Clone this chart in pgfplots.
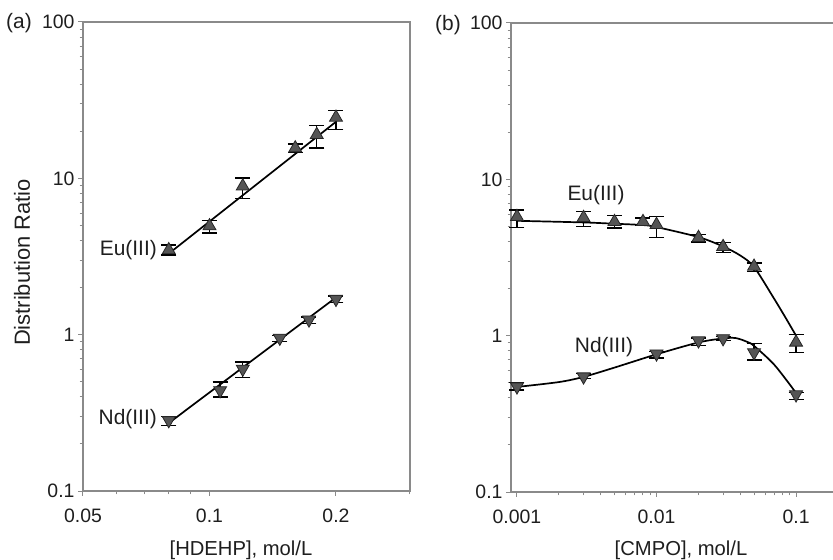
\documentclass[border=0pt]{standalone}
\usepackage{fontspec}
\setmainfont{Liberation Sans}
\usepackage{pgfplots}
\pgfplotsset{compat=1.18}

\definecolor{axisgray}{HTML}{8A8A8A}
\definecolor{markgray}{HTML}{555555}
\definecolor{txt}{HTML}{1E1E1E}

\pgfplotsset{
  every axis/.append style={
    scale only axis, height=469bp,
    ymin=0.1, ymax=100,
    ytick={0.1,1,10,100}, yticklabels={0.1,1,10,100},
    minor ytick={0.2,0.3,0.4,0.5,0.6,0.7,0.8,0.9,2,3,4,5,6,7,8,9,20,30,40,50,60,70,80,90},
    tick align=outside,
    major tick length=5bp, minor tick length=3.5bp,
    axis line style={axisgray, line width=1.2bp},
    tick style={axisgray, line width=1bp},
    tick label style={font=\fontsize{19.5}{22}\selectfont, text=txt},
    xticklabel style={yshift=-9bp},
  },
  eupts/.style={only marks, mark=triangle*, mark size=7.5bp,
    mark options={fill=markgray, draw=black!85, line width=0.8bp, solid},
    error bars/y dir=both, error bars/y explicit,
    error bars/error bar style={line width=1.3bp, black},
    error bars/error mark options={rotate=90, mark size=7.5bp, line width=1.3bp, black}},
  ndpts/.style={only marks, mark=triangle*, mark size=7.5bp,
    mark options={fill=markgray, draw=black!85, line width=0.8bp, solid, rotate=180},
    error bars/y dir=both, error bars/y explicit,
    error bars/error bar style={line width=1.3bp, black},
    error bars/error mark options={rotate=90, mark size=7.5bp, line width=1.3bp, black}},
  fitline/.style={black, line width=1.7bp, no marks},
}

\begin{document}
\begin{tikzpicture}
\begin{loglogaxis}[at={(83bp,69bp)}, anchor=south west, width=327bp,
    xtick pos=bottom, ytick pos=left, clip=false,
    xmin=0.05, xmax=0.3,
    xtick={0.05,0.1,0.2}, xticklabels={0.05,0.1,0.2},
    minor xtick={0.06,0.07,0.08,0.09,0.3}]
  % Eu(III)
  \addplot[fitline] coordinates {(0.08,3.3) (0.2,23.0)};
  \addplot[eupts] coordinates {
    (0.08,3.48) += (0,0.26) -= (0,0.25)
    (0.10,4.95) += (0,0.45) -= (0,0.47)
    (0.12,8.9)  += (0,1.15) -= (0,1.47)
    (0.16,15.6) += (0,1.0)  -= (0,0.9)
    (0.18,19.0) += (0,2.8)  -= (0,3.4)
    (0.20,24.5) += (0,2.6)  -= (0,3.9)
  };
  % Nd(III)
  \addplot[fitline] coordinates {(0.08,0.272) (0.2,1.73)};
  \addplot[ndpts] coordinates {
    (0.080,0.283) += (0,0.017) -= (0,0.02)
    (0.106,0.44)  += (0,0.057) -= (0,0.041)
    (0.120,0.604) += (0,0.064) -= (0,0.072)
    (0.147,0.953) += (0,0.03)  -= (0,0.05)
    (0.1725,1.246) += (0,0.05) -= (0,0.066)
    (0.200,1.69)  += (0,0.08)  -= (0,0.08)
  };
\end{loglogaxis}

\begin{loglogaxis}[at={(511bp,68bp)}, anchor=south west, width=322bp,
    axis x line*=box, axis y line*=left,
    xtick pos=bottom, ytick pos=left, clip=false,
    xmin=0.000906, xmax=0.184,
    xtick={0.001,0.01,0.1}, xticklabels={0.001,0.01,0.1},
    minor xtick={0.002,0.003,0.004,0.005,0.006,0.007,0.008,0.009,0.02,0.03,0.04,0.05,0.06,0.07,0.08,0.09}]
  % Eu(III)
  \addplot[fitline, smooth, tension=0.5] coordinates {
    (0.001,5.43) (0.003,5.3) (0.005,5.2) (0.008,5.1) (0.01,4.95)
    (0.02,4.27) (0.03,3.72) (0.04,3.25) (0.05,2.75) (0.0684,1.77)
    (0.0834,1.32) (0.1,1.0)};
  \addplot[eupts] coordinates {
    (0.001,5.76) += (0,0.62) -= (0,0.86)
    (0.003,5.68) += (0,0.52) -= (0,0.71)
    (0.005,5.35) += (0,0.5)  -= (0,0.47)
    (0.008,5.35) += (0,0.3)  -= (0,0.28)
    (0.010,5.12) += (0,0.66) -= (0,0.87)
    (0.020,4.23) += (0,0.19) -= (0,0.26)
    (0.030,3.70) += (0,0.23) -= (0,0.31)
    (0.050,2.77) += (0,0.14) -= (0,0.2)
    (0.100,0.906) += (0,0.11) -= (0,0.124)
  };
  % Nd(III)
  \addplot[fitline, smooth, tension=0.5] coordinates {
    (0.001,0.47) (0.002,0.505) (0.003,0.545) (0.005,0.625) (0.01,0.76)
    (0.02,0.905) (0.03,0.96) (0.037,0.965) (0.045,0.91) (0.05,0.86)
    (0.07,0.65) (0.1,0.43)};
  \addplot[ndpts] coordinates {
    (0.001,0.472) += (0,0.028) -= (0,0.022)
    (0.003,0.547) += (0,0.023) -= (0,0.017)
    (0.010,0.767) += (0,0.023) -= (0,0.047)
    (0.020,0.93)  += (0,0.036) -= (0,0.067)
    (0.030,0.96)  += (0,0.03)  -= (0,0.03)
    (0.050,0.78)  += (0,0.11)  -= (0,0.08)
    (0.100,0.42)  += (0,0.014) -= (0,0.03)
  };
\end{loglogaxis}

\begin{scope}[every node/.style={font=\fontsize{21}{24}\selectfont, text=txt, inner sep=0pt}]
  \node at (19bp,537bp) {(a)};
  \node at (448bp,535bp) {(b)};
  \node[rotate=90, font=\fontsize{22}{25}\selectfont] at (22bp,297.5bp) {Distribution Ratio};
  \node[anchor=base, font=\fontsize{20.3}{24}\selectfont] at (241bp,4.5bp) {[HDEHP], mol/L};
  \node[anchor=base, font=\fontsize{20.3}{24}\selectfont] at (681bp,4.5bp) {[CMPO], mol/L};
  \node[anchor=east] at (157bp,310bp) {Eu(III)};
  \node[anchor=east] at (157bp,141bp) {Nd(III)};
  \node at (596bp,365bp) {Eu(III)};
  \node at (604bp,212.5bp) {Nd(III)};
\end{scope}

\pgfresetboundingbox
\path[use as bounding box] (0,0) rectangle (833bp,560bp);
\end{tikzpicture}
\end{document}
